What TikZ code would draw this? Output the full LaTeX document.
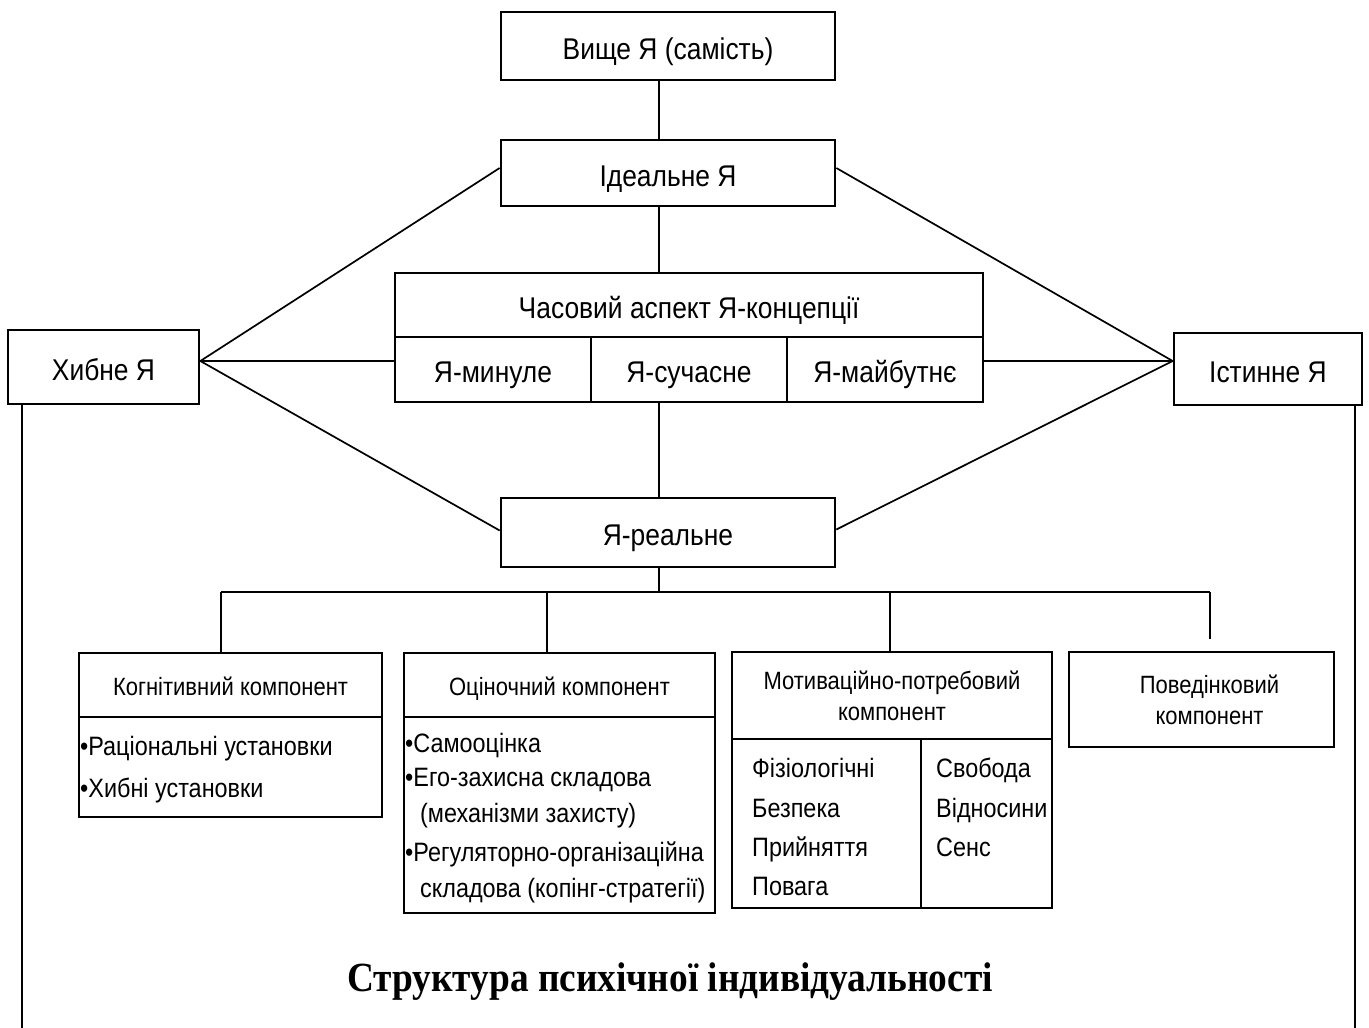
\documentclass[tikz,border=0pt]{standalone}
\usepackage{fontspec}
\setmainfont{Liberation Sans}[FakeStretch=0.88]
\newfontfamily\titlefont{Liberation Serif}[FakeStretch=0.9]
\begin{document}
\begin{tikzpicture}[x=1pt,y=-1pt,
  bx/.style={draw, line width=2.7pt, inner sep=0pt, align=center},
  big/.style={text height=26pt, text depth=0pt, font=\fontsize{30}{36}\selectfont},
  hd/.style={font=\fontsize{25}{31}\selectfont},
  hds/.style={hd, text height=20pt, text depth=0pt},
  it/.style={font=\fontsize{26.6}{31}\selectfont, anchor=base west, inner sep=0pt},
  ln/.style={line width=1.7pt}]
\useasboundingbox[fill=white] (0,0) rectangle (1369,1028);

% top column
\node[bx,big,minimum width=334,minimum height=68] (vys) at (668,46) {Вище Я (самість)};
\node[bx,big,minimum width=334,minimum height=66] (ideal) at (668,173) {Ідеальне Я};
\node[bx,big,minimum width=588,minimum height=64] (chas) at (689,305) {Часовий аспект Я-концепції};
\node[bx,big,minimum width=196,minimum height=65] (minule) at (493,369.5) {Я-минуле};
\node[bx,big,minimum width=196,minimum height=65] (such) at (689,369.5) {Я-сучасне};
\node[bx,big,minimum width=196,minimum height=65] (maib) at (885,369.5) {Я-майбутнє};
\node[bx,big,minimum width=334,minimum height=69] (real) at (668,532.5) {Я-реальне};

% side boxes
\node[bx,big,minimum width=191,minimum height=74] (hyb) at (103.5,367) {Хибне Я};
\node[bx,big,minimum width=188,minimum height=72] (ist) at (1268,369) {Істинне Я};

% component boxes
\node[bx,hds,minimum width=303,minimum height=64] (cogh) at (230.5,685) {Когнітивний компонент};
\node[bx,minimum width=303,minimum height=100] (cogb) at (230.5,767) {};
\node[it] (c1) at (80,755) {•Раціональні установки};
\node[it] (c2) at (80,797) {•Хибні установки};

\node[bx,hds,minimum width=311,minimum height=64] (ocih) at (559.5,685) {Оціночний компонент};
\node[bx,minimum width=311,minimum height=196] (ocib) at (559.5,815) {};
\node[it] (o1) at (405,752) {•Самооцінка};
\node[it] (o2) at (405,786) {•Его-захисна складова};
\node[it] (o3) at (420,822) {(механізми захисту)};
\node[it] (o4) at (405,861) {•Регуляторно-організаційна};
\node[it] (o5) at (420,897) {складова (копінг-стратегії)};

\node[bx,hd,minimum width=320,minimum height=87] (moth) at (892,695.5) {Мотиваційно-потребовий\\компонент};
\node[bx,minimum width=189,minimum height=169] (motl) at (826.5,823.5) {};
\node[bx,minimum width=131,minimum height=169] (motr) at (986.5,823.5) {};
\node[it] (m1) at (752,777) {Фізіологічні};
\node[it] (m2) at (752,817) {Безпека};
\node[it] (m3) at (752,856) {Прийняття};
\node[it] (m4) at (752,895) {Повага};
\node[it] (m5) at (936,777) {Свобода};
\node[it] (m6) at (936,817) {Відносини};
\node[it] (m7) at (936,856) {Сенс};

\node[bx,hd,minimum width=265,minimum height=95] (pov) at (1201.5,699.5) {\hspace*{16pt}Поведінковий\\\hspace*{16pt}компонент};

% title
\node[font=\titlefont\bfseries\fontsize{41.5}{46}\selectfont, inner sep=0pt] (title) at (670,982) {Структура психічної індивідуальності};

% coordinates
\coordinate (s1) at ([xshift=-9pt]vys.south);
\coordinate (s2) at ([xshift=-9pt]ideal.south);
\coordinate (s3) at ([xshift=-30pt]such.south);
\coordinate (s4) at ([xshift=-9pt]real.south);
\coordinate (bus) at (659,592);
\coordinate (d1) at (221,592);
\coordinate (d2) at (547,592);
\coordinate (d3) at (890,592);
\coordinate (d4) at (1210,592);
\coordinate (d4e) at (1210,639);
\coordinate (hl) at ([yshift=6pt]hyb.east);
\coordinate (il) at ([yshift=8pt]ist.west);
\coordinate (hv) at (22,1028);
\coordinate (iv) at (1355,1028);

% connectors
\draw[ln] (s1) -- (s1 |- ideal.north);
\draw[ln] (s2) -- (s2 |- chas.north);
\draw[ln] (s3) -- (s3 |- real.north);
\draw[ln] (s4) -- (s4 |- bus);
\draw[ln] (d1) -- (d4);
\draw[ln] (d1) -- (d1 |- cogh.north);
\draw[ln] (d2) -- (d2 |- ocih.north);
\draw[ln] (d3) -- (d3 |- moth.north);
\draw[ln] (d4) -- (d4e);

\draw[ln] (hl) -- ([yshift=5pt]ideal.west);
\draw[ln] (hl) -- (hl -| minule.west);
\draw[ln] (hl) -- ([yshift=2pt]real.west);
\draw[ln] (il) -- ([yshift=5pt]ideal.east);
\draw[ln] (il) -- (il -| maib.east);
\draw[ln] (il) -- ([yshift=3pt]real.east);

\draw[ln] (hv |- hyb.south) -- (hv);
\draw[ln] (iv |- ist.south) -- (iv);
\end{tikzpicture}
\end{document}
